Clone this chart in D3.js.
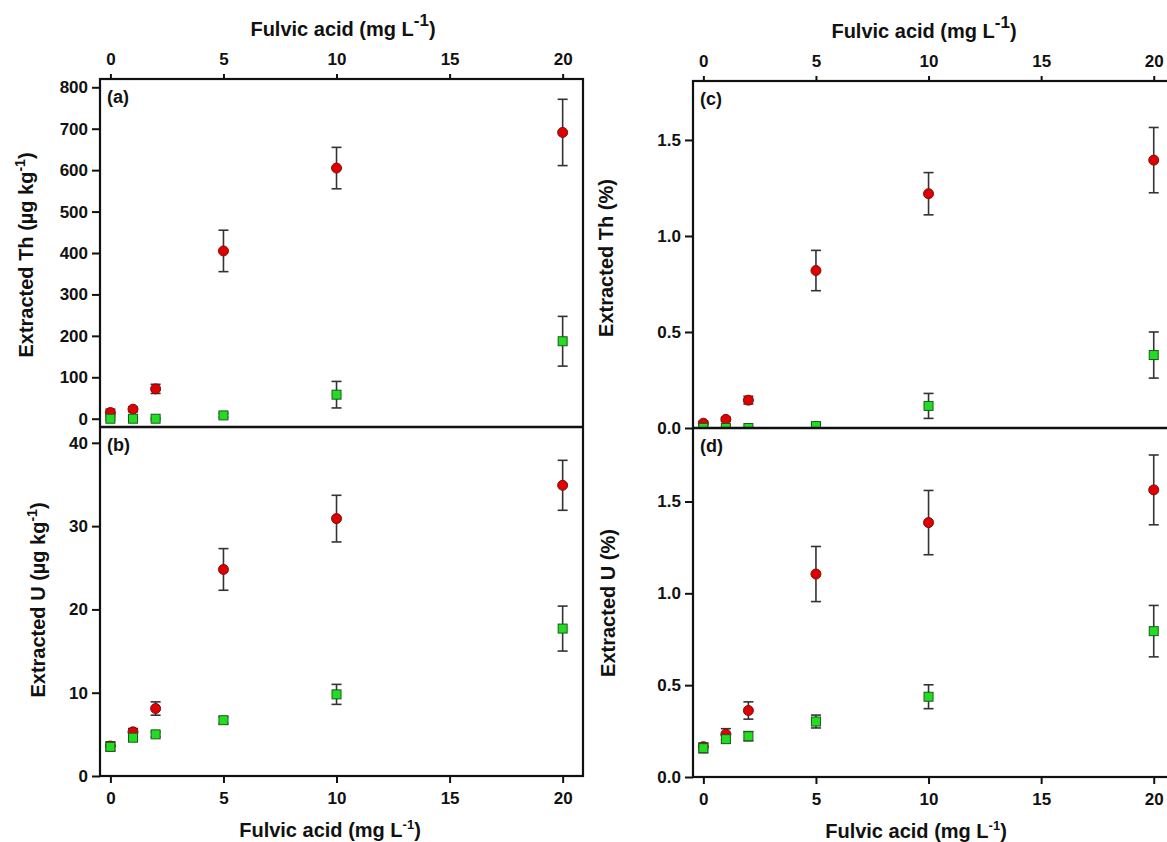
<!DOCTYPE html>
<html>
  <head>
    <meta charset="utf-8" />
    <title>Fulvic acid extraction</title>
    <style>
      body {
        margin: 0;
        background: #fff;
      }
      svg text {
        font-family: "Liberation Sans", Arial, sans-serif;
        font-weight: bold;
        fill: #111;
      }
    </style>
  </head>
  <body>
    <svg class="canvas"></svg>
    <script src="https://cdn.jsdelivr.net/npm/d3@7"></script>
    <script>
      // fulvic acid concentrations (mg/L)
      const fulvic = [0, 1, 2, 5, 10, 20];
      const xTicks = [0, 5, 10, 15, 20];

      // (a) extracted Th, ug/kg
      const thConcRed = [15, 23, 72, 405, 605, 691];
      const thConcRedErr = [8, 6, 11, 50, 50, 80];
      const thConcGreen = [0, 0, 0, 8, 58, 187];
      const thConcGreenErr = [3, 2, 2, 5, 32, 60];

      // (b) extracted U, ug/kg
      const uConcRed = [3.6, 5.3, 8.1, 24.8, 30.9, 34.9];
      const uConcRedErr = [0.5, 0.4, 0.8, 2.5, 2.8, 3.0];
      const uConcGreen = [3.5, 4.6, 5.0, 6.7, 9.8, 17.7];
      const uConcGreenErr = [0.5, 0.4, 0.3, 0.4, 1.2, 2.7];

      // (c) extracted Th, %
      const thPctRed = [0.025, 0.045, 0.145, 0.82, 1.22, 1.395];
      const thPctRedErr = [0.01, 0.01, 0.02, 0.105, 0.11, 0.17];
      const thPctGreen = [0, 0, 0, 0.01, 0.115, 0.38];
      const thPctGreenErr = [0.003, 0.003, 0.003, 0.01, 0.065, 0.12];

      // (d) extracted U, %
      const uPctRed = [0.165, 0.233, 0.362, 1.105, 1.385, 1.563];
      const uPctRedErr = [0.02, 0.03, 0.047, 0.15, 0.175, 0.19];
      const uPctGreen = [0.157, 0.206, 0.222, 0.302, 0.437, 0.794];
      const uPctGreenErr = [0.025, 0.02, 0.025, 0.035, 0.065, 0.14];

      const thConcTicks = [0, 100, 200, 300, 400, 500, 600, 700, 800];
      const uConcTicks = [0, 10, 20, 30, 40];
      const pctTicks = [0, 0.5, 1.0, 1.5];

      const width = 1167,
        height = 842;

      const svg = d3
        .select(".canvas")
        .attr("width", width)
        .attr("height", height);

      const defs = svg.append("defs");

      let clipCount = 0;

      function drawPanel(opt) {
        const x = d3.scaleLinear().domain([-0.46, 20.9]).range(opt.xRange);
        const y = d3.scaleLinear().domain(opt.yDomain).range(opt.yRange);

        const id = "clip" + clipCount++;
        defs
          .append("clipPath")
          .attr("id", id)
          .append("rect")
          .attr("x", opt.xRange[0])
          .attr("y", opt.yRange[1])
          .attr("width", opt.xRange[1] - opt.xRange[0])
          .attr("height", opt.yRange[0] - opt.yRange[1]);

        // y axis
        const yAxis = svg
          .append("g")
          .attr("transform", `translate(${opt.xRange[0]},0)`)
          .call(
            d3
              .axisLeft(y)
              .tickValues(opt.yTicks)
              .tickSize(8)
              .tickPadding(4)
              .tickFormat(opt.yFormat)
          );
        yAxis.select(".domain").remove();
        yAxis.selectAll("line").attr("stroke", "#111").attr("stroke-width", 2);
        yAxis.selectAll("text").style("font-size", "17px");

        const g = svg.append("g").attr("clip-path", `url(#${id})`);

        const series = [
          { vals: opt.red, err: opt.redErr, kind: "circle" },
          { vals: opt.green, err: opt.greenErr, kind: "square" },
        ];

        series.forEach((s) => {
          const pts = fulvic.map((f, i) => ({ f, v: s.vals[i], e: s.err[i] }));
          const eb = g.append("g").attr("stroke", "#333").attr("stroke-width", 1.6);
          eb.selectAll(".stem")
            .data(pts)
            .join("line")
            .attr("x1", (d) => x(d.f))
            .attr("x2", (d) => x(d.f))
            .attr("y1", (d) => y(d.v - d.e))
            .attr("y2", (d) => y(d.v + d.e));
          eb.selectAll(".capTop")
            .data(pts)
            .join("line")
            .attr("x1", (d) => x(d.f) - 5)
            .attr("x2", (d) => x(d.f) + 5)
            .attr("y1", (d) => y(d.v + d.e))
            .attr("y2", (d) => y(d.v + d.e));
          eb.selectAll(".capBot")
            .data(pts)
            .join("line")
            .attr("x1", (d) => x(d.f) - 5)
            .attr("x2", (d) => x(d.f) + 5)
            .attr("y1", (d) => y(d.v - d.e))
            .attr("y2", (d) => y(d.v - d.e));

          if (s.kind === "circle") {
            g.append("g")
              .selectAll("circle")
              .data(pts)
              .join("circle")
              .attr("cx", (d) => x(d.f))
              .attr("cy", (d) => y(d.v))
              .attr("r", 5)
              .attr("fill", "#e00000")
              .attr("stroke", "#7a1010")
              .attr("stroke-width", 1);
          } else {
            g.append("g")
              .selectAll("rect")
              .data(pts)
              .join("rect")
              .attr("x", (d) => x(d.f) - 4.5)
              .attr("y", (d) => y(d.v) - 4.5)
              .attr("width", 9)
              .attr("height", 9)
              .attr("fill", "#22dd22")
              .attr("stroke", "#1d5a1d")
              .attr("stroke-width", 1);
          }
        });

        // panel label
        svg
          .append("text")
          .attr("x", opt.xRange[0] + 7)
          .attr("y", opt.yRange[1] + 24)
          .style("font-size", "18px")
          .text(opt.label);

        // y title
        const t = svg
          .append("text")
          .attr("transform", `translate(${opt.titleX},${opt.titleY}) rotate(-90)`)
          .attr("text-anchor", "middle")
          .style("font-size", "20px")
          .text(opt.title);
        if (opt.titleSup) {
          t.append("tspan").attr("dy", -8).style("font-size", "14px").text("-1");
          t.append("tspan").attr("dy", 8).text(")");
        }

        return x;
      }

      function drawColumn(col) {
        const x = d3.scaleLinear().domain([-0.46, 20.9]).range(col.xRange);

        // top axis
        const top = svg
          .append("g")
          .attr("transform", `translate(0,${col.top})`)
          .call(d3.axisTop(x).tickValues(xTicks).tickSize(5).tickPadding(9));
        top.select(".domain").remove();
        top.selectAll("line").attr("stroke", "#111").attr("stroke-width", 2);
        top.selectAll("text").style("font-size", "17px");

        // bottom axis
        const bot = svg
          .append("g")
          .attr("transform", `translate(0,${col.bottom})`)
          .call(d3.axisBottom(x).tickValues(xTicks).tickSize(7).tickPadding(9));
        bot.select(".domain").remove();
        bot.selectAll("line").attr("stroke", "#111").attr("stroke-width", 2);
        bot.selectAll("text").style("font-size", "17px");

        // axis titles
        [
          [col.topCx, col.top - 43, 20, 17, -10],
          [col.botCx, col.bottom + 61, 20, 13, -8],
        ].forEach(([tx, ty, fs, sfs, sdy]) => {
          const t = svg
            .append("text")
            .attr("x", tx)
            .attr("y", ty)
            .attr("text-anchor", "middle")
            .style("font-size", fs + "px")
            .text("Fulvic acid (mg L");
          t.append("tspan").attr("dy", sdy).style("font-size", sfs + "px").text("-1");
          t.append("tspan").attr("dy", -sdy).text(")");
        });

        // frame
        svg
          .append("rect")
          .attr("x", col.xRange[0])
          .attr("y", col.top)
          .attr("width", col.xRange[1] - col.xRange[0])
          .attr("height", col.bottom - col.top)
          .attr("fill", "none")
          .attr("stroke", "#111")
          .attr("stroke-width", 2.2);
        svg
          .append("line")
          .attr("x1", col.xRange[0])
          .attr("x2", col.xRange[1])
          .attr("y1", col.mid)
          .attr("y2", col.mid)
          .attr("stroke", "#111")
          .attr("stroke-width", 2.6);
      }

      // left column
      drawPanel({
        xRange: [100, 583],
        yDomain: [-20, 820],
        yRange: [427, 79],
        yTicks: thConcTicks,
        yFormat: d3.format("d"),
        red: thConcRed,
        redErr: thConcRedErr,
        green: thConcGreen,
        greenErr: thConcGreenErr,
        label: "(a)",
        title: "Extracted Th (\u00b5g kg",
        titleSup: true,
        titleX: 33,
        titleY: 255,
      });
      drawPanel({
        xRange: [100, 583],
        yDomain: [0, 41.9],
        yRange: [776, 427],
        yTicks: uConcTicks,
        yFormat: d3.format("d"),
        red: uConcRed,
        redErr: uConcRedErr,
        green: uConcGreen,
        greenErr: uConcGreenErr,
        label: "(b)",
        title: "Extracted U (\u00b5g kg",
        titleSup: true,
        titleX: 45,
        titleY: 600,
      });
      drawColumn({ xRange: [100, 583], top: 79, bottom: 776, mid: 427, topCx: 343, botCx: 330 });

      // right column
      drawPanel({
        xRange: [693, 1174],
        yDomain: [0, 1.807],
        yRange: [428, 81],
        yTicks: pctTicks,
        yFormat: d3.format(".1f"),
        red: thPctRed,
        redErr: thPctRedErr,
        green: thPctGreen,
        greenErr: thPctGreenErr,
        label: "(c)",
        title: "Extracted Th (%)",
        titleSup: false,
        titleX: 613,
        titleY: 258,
      });
      drawPanel({
        xRange: [693, 1174],
        yDomain: [0, 1.9],
        yRange: [777, 428],
        yTicks: pctTicks,
        yFormat: d3.format(".1f"),
        red: uPctRed,
        redErr: uPctRedErr,
        green: uPctGreen,
        greenErr: uPctGreenErr,
        label: "(d)",
        title: "Extracted U (%)",
        titleSup: false,
        titleX: 615,
        titleY: 603,
      });
      drawColumn({ xRange: [693, 1174], top: 81, bottom: 777, mid: 428, topCx: 924, botCx: 916 });
    </script>
  </body>
</html>
